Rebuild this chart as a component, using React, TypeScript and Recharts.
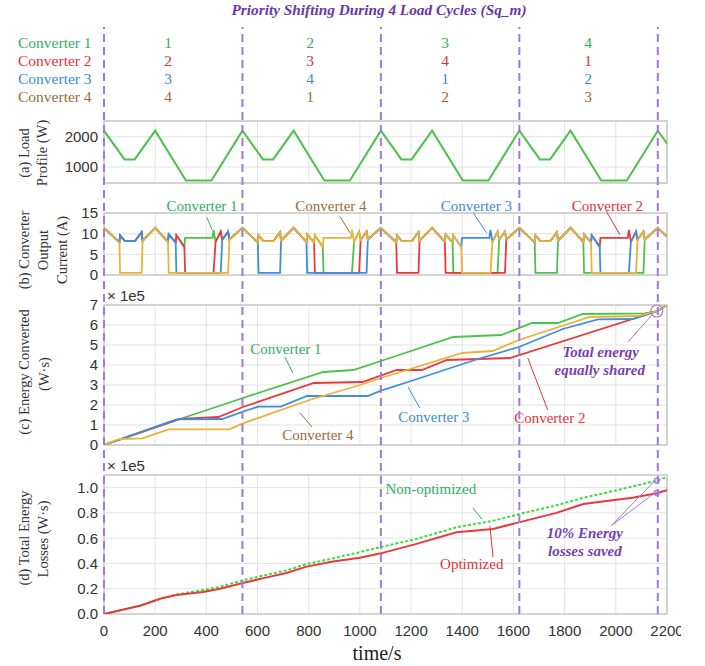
import React from 'react';
import {
  LineChart,
  Line,
  XAxis,
  YAxis,
  CartesianGrid,
  ReferenceLine,
  ReferenceDot,
  ReferenceArea,
} from 'recharts';

// ---------------- DATA ----------------
const X_TICKS = [0, 200, 400, 600, 800, 1000, 1200, 1400, 1600, 1800, 2000, 2200];
const CYCLE_BOUNDS = [0, 541, 1082, 1623, 2164];
const CYCLE_STARTS = [0, 541, 1082, 1623];

const CONVERTERS = ['Converter 1', 'Converter 2', 'Converter 3', 'Converter 4'];
// priority of each converter in cycles 1..4
const PRIORITY_C1 = [1, 2, 3, 4];
const PRIORITY_C2 = [2, 3, 4, 1];
const PRIORITY_C3 = [3, 4, 1, 2];
const PRIORITY_C4 = [4, 1, 2, 3];
const PRIORITIES = [PRIORITY_C1, PRIORITY_C2, PRIORITY_C3, PRIORITY_C4];

// (a) load profile [time s, W]
const LOAD = [
  [0, 2200], [80, 1250], [120, 1250], [200, 2200], [320, 550], [420, 550],
  [541, 2200], [621, 1250], [661, 1250], [741, 2200], [861, 550], [961, 550],
  [1082, 2200], [1162, 1250], [1202, 1250], [1282, 2200], [1402, 550], [1502, 550],
  [1623, 2200], [1703, 1250], [1743, 1250], [1823, 2200], [1943, 550], [2043, 550],
  [2164, 2200], [2200, 1780],
];

// (b) output current within one load cycle, by priority rank (A)
const CUR_T = [0, 60, 63, 82, 121, 147, 151, 200, 250, 253, 280, 283, 314, 317, 424, 428, 436, 456, 462, 485, 490];
const CUR_P1 = [11.4, 7.9, 9.6, 8.2, 8.2, 10.4, 8.3, 11.4, 8.0, 9.8, 7.9, 9.6, 6.8, 9.0, 9.0, 10.9, 8.0, 10.5, 8.5, 10.5, 8.6];
const CUR_P2 = [11.4, 7.9, 9.6, 8.2, 8.2, 10.4, 8.3, 11.4, 8.0, 9.8, 7.9, 9.6, 6.8, 0.5, 0.5, 0.5, 8.0, 10.5, 8.5, 10.5, 8.6];
const CUR_P3 = [11.4, 7.9, 9.6, 8.2, 8.2, 10.4, 8.3, 11.4, 8.0, 9.8, 7.9, 0.5, 0.5, 0.5, 0.5, 0.5, 0.5, 0.5, 8.5, 10.5, 8.6];
const CUR_P4 = [11.4, 7.9, 0.5, 0.5, 0.5, 0.5, 8.3, 11.4, 8.0, 0.5, 0.5, 0.5, 0.5, 0.5, 0.5, 0.5, 0.5, 0.5, 0.5, 0.5, 8.6];
const CUR_BY_RANK = [CUR_P1, CUR_P2, CUR_P3, CUR_P4];
const CUR_END = [2164, 11.4];
const CUR_TAIL = [2200, 9.3];

// (c) energy converted (x 1e5 W·s)
const ENERGY_C1 = [[0, 0], [297, 1.3], [543, 2.35], [857, 3.65], [974, 3.75], [1082, 4.2], [1365, 5.4], [1553, 5.5], [1672, 6.1], [1773, 6.1], [1871, 6.55], [2113, 6.58], [2164, 6.7], [2200, 7.0]];
const ENERGY_C2 = [[0, 0], [297, 1.3], [447, 1.4], [543, 1.9], [820, 3.1], [1010, 3.15], [1144, 3.75], [1242, 3.75], [1340, 4.25], [1586, 4.35], [2164, 6.7], [2200, 7.0]];
const ENERGY_C3 = [[0, 0], [283, 1.28], [462, 1.3], [543, 1.67], [603, 1.92], [691, 1.92], [793, 2.45], [1031, 2.45], [1082, 2.72], [1200, 3.2], [1461, 4.3], [1621, 4.9], [1793, 5.8], [1930, 6.28], [2066, 6.3], [2164, 6.7], [2200, 7.0]];
const ENERGY_C4 = [[0, 0], [62, 0.3], [150, 0.33], [252, 0.78], [490, 0.78], [543, 1.08], [803, 2.25], [1000, 3.0], [1082, 3.35], [1400, 4.6], [1518, 4.7], [1621, 5.25], [1898, 6.4], [2085, 6.45], [2164, 6.7], [2200, 7.0]];

// (d) total energy losses (x 1e5 W·s)
const LOSS_OPT = [[0, 0], [141, 0.065], [219, 0.12], [283, 0.15], [387, 0.175], [453, 0.2], [543, 0.245], [635, 0.29], [713, 0.325], [791, 0.375], [895, 0.415], [1000, 0.445], [1082, 0.48], [1221, 0.555], [1377, 0.647], [1520, 0.673], [1621, 0.725], [1768, 0.8], [1873, 0.87], [1963, 0.895], [2066, 0.92], [2160, 0.955], [2200, 0.98]];
const LOSS_NONOPT = [[0, 0], [141, 0.065], [219, 0.12], [283, 0.155], [387, 0.19], [453, 0.215], [543, 0.267], [635, 0.31], [713, 0.345], [791, 0.395], [895, 0.44], [1000, 0.49], [1082, 0.53], [1221, 0.594], [1377, 0.686], [1520, 0.738], [1621, 0.79], [1768, 0.86], [1873, 0.92], [1963, 0.96], [2066, 1.01], [2160, 1.055], [2200, 1.085]];

// ---------------- STYLE ----------------
const SANS = '"Liberation Sans", Arial, sans-serif';
const SERIF = '"Liberation Serif", "Times New Roman", serif';
const GREEN = '#4cc24a';
const RED = '#e8393c';
const BLUE = '#3d8fdf';
const YELLOW = '#e8b338';
const T_GREEN = '#2fae62';
const T_RED = '#e5323a';
const T_BLUE = '#3b8ad6';
const T_BROWN = '#9c6a3a';
const PURPLE = '#a07ad8';
const PURPLE_TXT = '#7440b4';
const GRID = '#e3e3e3';
const BORDER = '#c9c9c9';
const ROW_COLORS = [T_GREEN, T_RED, T_BLUE, T_BROWN];
const LINE_COLORS = [GREEN, RED, BLUE, YELLOW];

const W = 705;
const PLOT_LEFT = 104;
const PLOT_RIGHT_M = 38;

const toRows = (pairs: number[][]) => pairs.map(([t, v]) => ({ t, v }));

// build the current table from the per-rank cycle shape and the priority table
const currentRows: any[] = [];
CYCLE_STARTS.forEach((s, c) => {
  CUR_T.forEach((rt, i) => {
    const row: any = { t: s + rt };
    PRIORITIES.forEach((pr, k) => {
      row['c' + (k + 1)] = CUR_BY_RANK[pr[c] - 1][i];
    });
    currentRows.push(row);
  });
});
[CUR_END, CUR_TAIL].forEach(([t, v]) => currentRows.push({ t, c1: v, c2: v, c3: v, c4: v }));

const loadRows = toRows(LOAD);
const energySeries = [ENERGY_C1, ENERGY_C2, ENERGY_C3, ENERGY_C4].map(toRows);
const lossOptRows = toRows(LOSS_OPT);
const lossNonRows = toRows(LOSS_NONOPT);

const tickStyle = { fontFamily: SANS, fontSize: 15, fill: '#333' };

const labelShape = (text: string, color: string, opts: any = {}) => (p: any) => (
  <text
    x={p.cx}
    y={p.cy}
    dy="0.35em"
    textAnchor="middle"
    fill={color}
    fontFamily={SERIF}
    fontSize={opts.size || 15}
    fontStyle={opts.italic ? 'italic' : 'normal'}
    fontWeight={opts.bold ? 'bold' : 'normal'}
  >
    {text}
  </text>
);

const hiddenX = (
  <XAxis type="number" dataKey="t" domain={[0, 2200]} ticks={X_TICKS} hide allowDataOverflow />
);

const yAxisProps = {
  width: PLOT_LEFT,
  axisLine: false,
  tickLine: false,
  tickSize: 0,
  tickMargin: 6,
  tick: tickStyle,
  interval: 0 as any,
  allowDataOverflow: true,
};

export default function App() {
  return (
    <div style={{ position: 'absolute', left: 0, top: 0, width: 681, height: 666, overflow: 'hidden', background: '#fff' }}>
      {/* (a) Load profile */}
      <div style={{ position: 'absolute', left: 0, top: 100 }}>
        <LineChart width={W} height={93} data={loadRows} margin={{ top: 21, right: PLOT_RIGHT_M, bottom: 10, left: 0 }}>
          <CartesianGrid stroke={GRID} />
          {hiddenX}
          <YAxis {...yAxisProps} domain={[470, 2520]} ticks={[1000, 2000]} />
          <ReferenceArea x1={0} x2={2200} y1={470} y2={2520} fill="none" stroke={BORDER} strokeWidth={1.5} ifOverflow="visible" />
          <Line dataKey="v" stroke={GREEN} strokeWidth={2} dot={false} activeDot={false} isAnimationActive={false} type="linear" />
        </LineChart>
      </div>

      {/* (b) Output currents */}
      <div style={{ position: 'absolute', left: 0, top: 185 }}>
        <LineChart width={W} height={100} data={currentRows} margin={{ top: 28, right: PLOT_RIGHT_M, bottom: 10, left: 0 }}>
          <CartesianGrid stroke={GRID} />
          {hiddenX}
          <YAxis {...yAxisProps} domain={[0, 15]} ticks={[0, 5, 10, 15]} />
          <ReferenceArea x1={0} x2={2200} y1={0} y2={15} fill="none" stroke={BORDER} strokeWidth={1.5} ifOverflow="visible" />
          {['c1', 'c2', 'c3', 'c4'].map((k, i) => (
            <Line key={k} dataKey={k} name={CONVERTERS[i]} stroke={LINE_COLORS[i]} strokeWidth={1.8} dot={false} activeDot={false} isAnimationActive={false} type="linear" />
          ))}
          <ReferenceLine segment={[{ x: 402, y: 13.9 }, { x: 422, y: 11.0 }]} stroke={T_GREEN} strokeWidth={1} ifOverflow="visible" />
          <ReferenceLine segment={[{ x: 922, y: 14.2 }, { x: 961, y: 10.2 }]} stroke={T_BROWN} strokeWidth={1} ifOverflow="visible" />
          <ReferenceLine segment={[{ x: 1443, y: 15.0 }, { x: 1495, y: 10.2 }]} stroke={T_BLUE} strokeWidth={1} ifOverflow="visible" />
          <ReferenceLine segment={[{ x: 1963, y: 15.4 }, { x: 2016, y: 9.75 }]} stroke={T_RED} strokeWidth={1} ifOverflow="visible" />
          <ReferenceDot x={383} y={16.8} r={0} ifOverflow="visible" shape={labelShape('Converter 1', T_GREEN)} />
          <ReferenceDot x={887} y={16.8} r={0} ifOverflow="visible" shape={labelShape('Converter 4', T_BROWN)} />
          <ReferenceDot x={1455} y={16.8} r={0} ifOverflow="visible" shape={labelShape('Converter 3', T_BLUE)} />
          <ReferenceDot x={1967} y={16.8} r={0} ifOverflow="visible" shape={labelShape('Converter 2', T_RED)} />
        </LineChart>
      </div>

      {/* (c) Energy converted */}
      <div style={{ position: 'absolute', left: 0, top: 280 }}>
        <LineChart width={W} height={175} margin={{ top: 25, right: PLOT_RIGHT_M, bottom: 10, left: 0 }}>
          <CartesianGrid stroke={GRID} />
          {hiddenX}
          <YAxis {...yAxisProps} domain={[0, 7]} ticks={[0, 1, 2, 3, 4, 5, 6, 7]} />
          <ReferenceArea x1={0} x2={2200} y1={0} y2={7} fill="none" stroke={BORDER} strokeWidth={1.5} ifOverflow="visible" />
          {energySeries.map((rows, i) => (
            <Line key={i} data={rows} dataKey="v" name={CONVERTERS[i]} stroke={LINE_COLORS[i]} strokeWidth={1.8} dot={false} activeDot={false} isAnimationActive={false} type="linear" />
          ))}
          <ReferenceLine segment={[{ x: 707, y: 4.4 }, { x: 738, y: 3.6 }]} stroke={T_GREEN} strokeWidth={1} ifOverflow="visible" />
          <ReferenceLine segment={[{ x: 766, y: 1.6 }, { x: 813, y: 0.9 }]} stroke={T_BROWN} strokeWidth={1} ifOverflow="visible" />
          <ReferenceLine segment={[{ x: 1188, y: 2.9 }, { x: 1234, y: 1.85 }]} stroke={T_BLUE} strokeWidth={1} ifOverflow="visible" />
          <ReferenceLine segment={[{ x: 1656, y: 4.35 }, { x: 1734, y: 1.75 }]} stroke={T_RED} strokeWidth={1} ifOverflow="visible" />
          <ReferenceLine segment={[{ x: 2047, y: 5.15 }, { x: 2141, y: 6.5 }]} stroke={PURPLE} strokeWidth={1} ifOverflow="visible" />
          <ReferenceDot x={2160} y={6.7} r={6} fill="none" stroke={PURPLE} strokeWidth={1.2} ifOverflow="visible" />
          <ReferenceDot x={711} y={4.8} r={0} ifOverflow="visible" shape={labelShape('Converter 1', T_GREEN)} />
          <ReferenceDot x={836} y={0.5} r={0} ifOverflow="visible" shape={labelShape('Converter 4', T_BROWN)} />
          <ReferenceDot x={1289} y={1.4} r={0} ifOverflow="visible" shape={labelShape('Converter 3', T_BLUE)} />
          <ReferenceDot x={1742} y={1.35} r={0} ifOverflow="visible" shape={labelShape('Converter 2', T_RED)} />
          <ReferenceDot x={1941} y={4.65} r={0} ifOverflow="visible" shape={labelShape('Total energy', PURPLE_TXT, { bold: true, italic: true })} />
          <ReferenceDot x={1937} y={3.75} r={0} ifOverflow="visible" shape={labelShape('equally shared', PURPLE_TXT, { bold: true, italic: true })} />
        </LineChart>
      </div>

      {/* (d) Total energy losses */}
      <div style={{ position: 'absolute', left: 0, top: 465 }}>
        <LineChart width={W} height={179} margin={{ top: 10, right: PLOT_RIGHT_M, bottom: 0, left: 0 }}>
          <CartesianGrid stroke={GRID} />
          <XAxis
            type="number"
            dataKey="t"
            domain={[0, 2200]}
            ticks={X_TICKS}
            interval={0}
            height={30}
            axisLine={false}
            tickLine={false}
            tickSize={0}
            tickMargin={11}
            tick={tickStyle}
            allowDataOverflow
          />
          <YAxis {...yAxisProps} domain={[0, 1.1]} ticks={[0, 0.2, 0.4, 0.6, 0.8, 1.0]} tickFormatter={(v: number) => v.toFixed(1)} />
          <ReferenceArea x1={0} x2={2200} y1={0} y2={1.1} fill="none" stroke={BORDER} strokeWidth={1.5} ifOverflow="visible" />
          <Line data={lossNonRows} dataKey="v" name="Non-optimized" stroke="#3ddc3d" strokeWidth={2} strokeDasharray="3 2" dot={false} activeDot={false} isAnimationActive={false} type="linear" />
          <Line data={lossOptRows} dataKey="v" name="Optimized" stroke={RED} strokeWidth={2} dot={false} activeDot={false} isAnimationActive={false} type="linear" />
          <ReferenceLine segment={[{ x: 1441, y: 0.84 }, { x: 1477, y: 0.75 }]} stroke={T_GREEN} strokeWidth={1} ifOverflow="visible" />
          <ReferenceLine segment={[{ x: 1508, y: 0.7 }, { x: 1520, y: 0.45 }]} stroke={T_RED} strokeWidth={1} ifOverflow="visible" />
          <ReferenceLine segment={[{ x: 1983, y: 0.7 }, { x: 2152, y: 1.055 }]} stroke={PURPLE} strokeWidth={1} ifOverflow="visible" />
          <ReferenceLine segment={[{ x: 1983, y: 0.7 }, { x: 2152, y: 0.958 }]} stroke={PURPLE} strokeWidth={1} ifOverflow="visible" />
          <ReferenceDot x={2160} y={1.055} r={2.5} fill="none" stroke={PURPLE} strokeWidth={1.2} ifOverflow="visible" />
          <ReferenceDot x={2160} y={0.958} r={2.5} fill="none" stroke={PURPLE} strokeWidth={1.2} ifOverflow="visible" />
          <ReferenceDot x={1277} y={0.99} r={0} ifOverflow="visible" shape={labelShape('Non-optimized', T_GREEN)} />
          <ReferenceDot x={1437} y={0.4} r={0} ifOverflow="visible" shape={labelShape('Optimized', T_RED)} />
          <ReferenceDot x={1879} y={0.645} r={0} ifOverflow="visible" shape={labelShape('10% Energy', PURPLE_TXT, { bold: true, italic: true })} />
          <ReferenceDot x={1879} y={0.5} r={0} ifOverflow="visible" shape={labelShape('losses saved', PURPLE_TXT, { bold: true, italic: true })} />
        </LineChart>
      </div>

      {/* dashed cycle boundaries spanning table and all panels */}
      <div style={{ position: 'absolute', left: 0, top: 0, pointerEvents: 'none' }}>
        <LineChart width={W} height={666} data={[{ t: 0, y: 0 }, { t: 2200, y: 1 }]} margin={{ top: 27, right: PLOT_RIGHT_M, bottom: 52, left: PLOT_LEFT }}>
          <XAxis type="number" dataKey="t" domain={[0, 2200]} hide />
          <YAxis hide domain={[0, 1]} />
          <Line dataKey="y" stroke="none" dot={false} activeDot={false} isAnimationActive={false} />
          {CYCLE_BOUNDS.map((b) => (
            <ReferenceLine key={b} x={b} stroke={PURPLE} strokeWidth={2} strokeDasharray="8 5" ifOverflow="visible" />
          ))}
        </LineChart>
      </div>

      {/* text: title, priority table, axis titles */}
      <svg width={W} height={666} style={{ position: 'absolute', left: 0, top: 0, pointerEvents: 'none' }}>
        <text x={379} y={15} textAnchor="middle" fill="#6a36a8" fontFamily={SERIF} fontSize={14.5} fontWeight="bold" fontStyle="italic" textLength={295} lengthAdjust="spacingAndGlyphs">
          Priority Shifting During 4 Load Cycles (Sq_m)
        </text>
        {CONVERTERS.map((name, i) => (
          <g key={name}>
            <text x={18} y={48 + i * 18} fill={ROW_COLORS[i]} fontFamily={SERIF} fontSize={15.5}>{name}</text>
            {PRIORITIES[i].map((p, c) => (
              <text key={c} x={[168, 310, 445, 588][c]} y={48 + i * 18} textAnchor="middle" fill={ROW_COLORS[i]} fontFamily={SERIF} fontSize={15.5}>{p}</text>
            ))}
          </g>
        ))}
        <g fontFamily={SERIF} fontSize={14.5} fill="#333" textAnchor="middle">
          <text transform="translate(29,153) rotate(-90)">(a) Load</text>
          <text transform="translate(47,153) rotate(-90)">Profile (W)</text>
          <text transform="translate(29,250) rotate(-90)">(b) Converter</text>
          <text transform="translate(48,250) rotate(-90)">Output</text>
          <text transform="translate(67,250) rotate(-90)">Current (A)</text>
          <text transform="translate(29,372) rotate(-90)">(c) Energy Converted</text>
          <text transform="translate(49,374) rotate(-90)">(W·s)</text>
          <text transform="translate(29,538) rotate(-90)">(d) Total Energy</text>
          <text transform="translate(48,539) rotate(-90)">Losses (W·s)</text>
        </g>
        <text x={107} y={301} fill="#333" fontFamily={SANS} fontSize={15}>× 1e5</text>
        <text x={107} y={471} fill="#333" fontFamily={SANS} fontSize={15}>× 1e5</text>
        <text x={377} y={660} textAnchor="middle" fill="#222" fontFamily={SERIF} fontSize={20}>time/s</text>
      </svg>
    </div>
  );
}
